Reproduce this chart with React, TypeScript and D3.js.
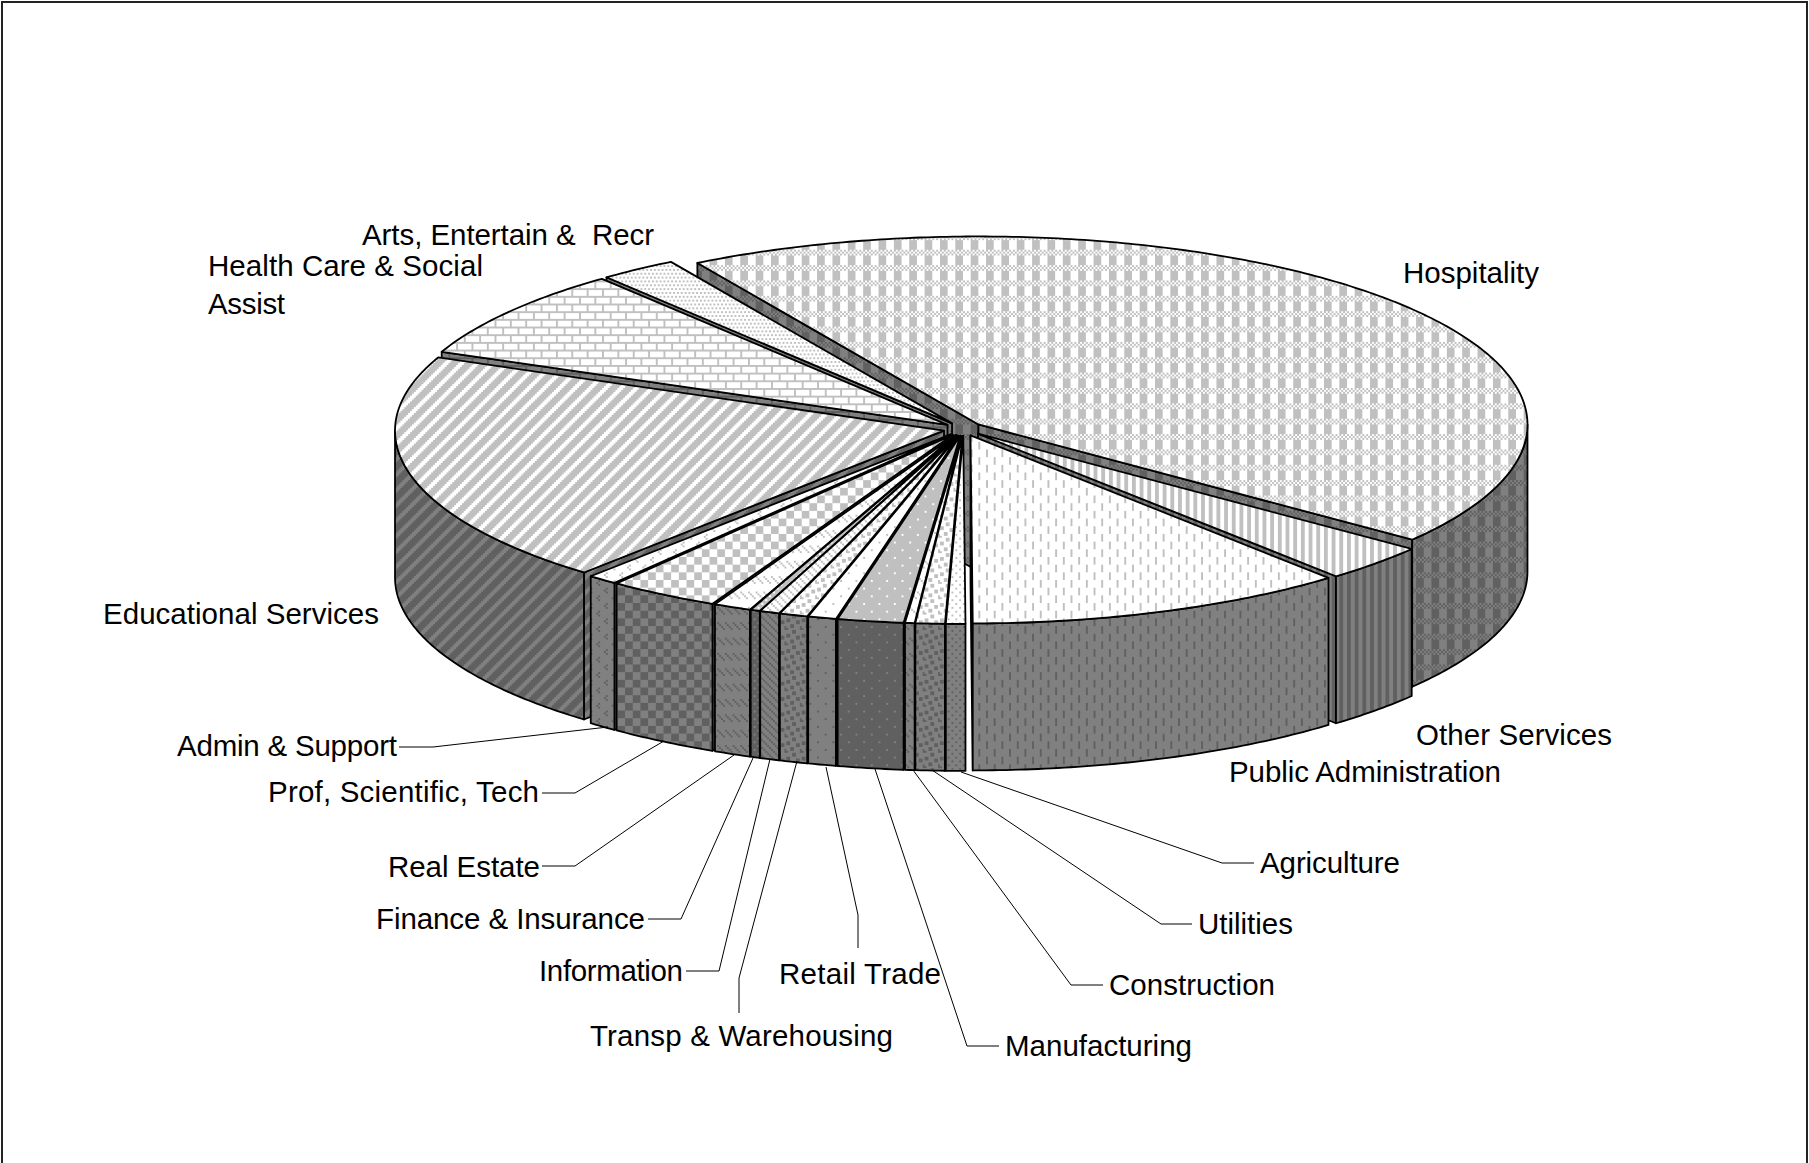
import React from "react";
import * as d3 from "d3";

// Employment share by industry, in the clockwise order of the pie.
const categories = [
  "Hospitality", "Other Services", "Public Administration", "Agriculture", "Utilities",
  "Construction", "Manufacturing", "Retail Trade", "Transp & Warehousing", "Information",
  "Finance & Insurance", "Real Estate", "Prof, Scientific, Tech", "Admin & Support",
  "Educational Services", "Health Care & Social Assist", "Arts, Entertain &  Recr",
];
const shares = [44.06, 3.19, 11.24, 0.57, 0.86, 0.28, 1.94, 0.83, 0.83, 0.58, 0.28, 1.11, 3.28, 0.89, 19.97, 7.81, 2.28];

// 8x8 fill bitmaps, one per category, in the same order.
const plaid = ["10101010", "01010101", "10101010", "11110000", "11110000", "11110000", "11110000", "11110000"];
const wideVertical = Array(8).fill("11001100");
const dashedVertical = ["10000000", "10000000", "10000000", "10000000", "00001000", "00001000", "00001000", "00001000"];
const tenPercent = ["10001000", "00000000", "00100010", "00000000", "10001000", "00000000", "00100010", "00000000"];
const confetti = ["11000000", "11000110", "00000110", "00110000", "00110001", "10000001", "00011000", "00011000"];
const dashedDown = ["00000000", "00000000", "10001000", "01000100", "00100010", "00010001", "00000000", "00000000"];
const sparseDots = ["10000000", "00000000", "00000000", "00000000", "00001000", "00000000", "00000000", "00000000"];
const sparseHoles = ["01111111", "11111111", "11111111", "11111111", "11110111", "11111111", "11111111", "11111111"];
const lightDown = ["10001000", "01000100", "00100010", "00010001", "10001000", "01000100", "00100010", "00010001"];
const nearSolid = ["11101110", "11111111", "10111011", "11111111", "11101110", "11111111", "10111011", "11111111"];
const largeCheck = ["11110000", "11110000", "11110000", "11110000", "00001111", "00001111", "00001111", "00001111"];
const chevrons = ["00100000", "01000000", "00100000", "00000000", "00000010", "00000100", "00000010", "00000000"];
const wideUp = ["00011111", "00111110", "01111100", "11111000", "11110001", "11100011", "11000111", "10001111"];
const brick = ["11111111", "00001000", "00001000", "00001000", "11111111", "10000000", "10000000", "10000000"];
const fineDots = ["10101010", "00000000", "01010101", "00000000", "10101010", "00000000", "01010101", "00000000"];
const fills = [
  plaid, wideVertical, dashedVertical, tenPercent, confetti, dashedDown, sparseHoles, sparseDots,
  confetti, lightDown, nearSolid, dashedDown, largeCheck, chevrons, wideUp, brick, fineDots,
];

// Label text lines with their start x, baseline y and set width.
const labelLines = [
  { text: "Hospitality", x: 1403, y: 283, w: 136 },
  { text: "Other Services", x: 1416, y: 745, w: 196 },
  { text: "Public Administration", x: 1229, y: 782, w: 272 },
  { text: "Agriculture", x: 1260, y: 873, w: 140 },
  { text: "Utilities", x: 1198, y: 934, w: 95 },
  { text: "Construction", x: 1109, y: 995, w: 166 },
  { text: "Manufacturing", x: 1005, y: 1056, w: 187 },
  { text: "Retail Trade", x: 779, y: 984, w: 162 },
  { text: "Transp & Warehousing", x: 590, y: 1046, w: 303 },
  { text: "Information", x: 539, y: 981, w: 144 },
  { text: "Finance & Insurance", x: 376, y: 929, w: 269 },
  { text: "Real Estate", x: 388, y: 877, w: 152 },
  { text: "Prof, Scientific, Tech", x: 268, y: 802, w: 271 },
  { text: "Admin & Support", x: 177, y: 756, w: 220 },
  { text: "Educational Services", x: 103, y: 624, w: 276 },
  { text: "Health Care & Social", x: 208, y: 276, w: 275 },
  { text: "Assist", x: 208, y: 314, w: 77 },
  { text: "Arts, Entertain &  Recr", x: 362, y: 245, w: 292 },
];

// Elbowed leader lines from the small slices to their labels.
const leaders: [number, number][][] = [
  [[399, 747], [433, 747], [608, 727]],
  [[542, 793], [575, 793], [664, 741]],
  [[542, 866], [575, 866], [734, 755]],
  [[648, 919], [681, 919], [753, 758]],
  [[686, 971], [719, 971], [770, 759]],
  [[739, 1013], [739, 978], [797, 761]],
  [[858, 948], [858, 915], [826, 767]],
  [[999, 1046], [967, 1046], [875, 769]],
  [[1103, 985], [1071, 985], [913, 770]],
  [[1192, 924], [1161, 924], [932, 770]],
  [[1254, 863], [1222, 863], [961, 772]],
];

const W = 1809;
const H = 1163;
const CX = 963.5;
const CY = 429;
const RX = 549;
const RY = 188;
const DEPTH = 147;
const EXPLODE = 20 / 549;
const FIRST_ANGLE = (-30.8 * Math.PI) / 180;
const CELL = 1.92;
const FACE_ON = "#C0C0C0";
const FACE_OFF = "#FFFFFF";
const WALL_ON = "#606060";
const WALL_OFF = "#808080";
const LINE = 1.8;

const sx = d3.scaleLinear([-1, 1], [-RX, RX]);
const sy = d3.scaleLinear([-1, 1], [-RY, RY]);
const pathOf = d3.line<[number, number]>();

type Pt = [number, number];

// A point of the disc at a clockwise angle from north, around a slice apex.
const onRim = (apex: Pt, a: number, r = 1): Pt => [
  apex[0] + sx(Math.sin(a) * r),
  apex[1] + sy(-Math.cos(a) * r),
];

const sampleArc = (apex: Pt, a0: number, a1: number): Pt[] => {
  const n = Math.max(2, Math.ceil(Math.abs(a1 - a0) / 0.012));
  return d3.range(n + 1).map((i) => onRim(apex, a0 + ((a1 - a0) * i) / n));
};

const drop = (p: Pt): Pt => [p[0], p[1] + DEPTH];

function Tile({ id, rows, on, off }: { id: string; rows: string[]; on: string; off: string }) {
  let d = "";
  rows.forEach((row, y) =>
    row.split("").forEach((c, x) => {
      if (c === "1") d += `M${x} ${y}h1v1h-1z`;
    }),
  );
  return (
    <pattern id={id} width={8} height={8} patternUnits="userSpaceOnUse" patternTransform={`translate(3 4) scale(${CELL})`}>
      <rect width={8} height={8} fill={off} />
      <path d={d} fill={on} />
    </pattern>
  );
}

function Slice({ i, arc }: { i: number; arc: d3.PieArcDatum<number> }) {
  const { startAngle: a0, endAngle: a1 } = arc;
  const mid = (a0 + a1) / 2;
  const apex: Pt = onRim([CX, CY], mid, EXPLODE);
  const stroke = { stroke: "#000", strokeWidth: LINE, strokeLinejoin: "round" as const };
  const wallFill = `url(#wall-${i})`;
  const radial = (a: number) => {
    const rim = onRim(apex, a);
    return pathOf([apex, rim, drop(rim), drop(apex)]) + "Z";
  };
  // Outer wall only where the rim faces the viewer.
  const lo = Math.max(a0, Math.PI / 2);
  const hi = Math.min(a1, (3 * Math.PI) / 2);
  const outer = lo < hi ? sampleArc(apex, lo, hi) : null;
  return (
    <g>
      {Math.sin(a0) < 0 && <path d={radial(a0)} fill={wallFill} {...stroke} />}
      {Math.sin(a1) > 0 && <path d={radial(a1)} fill={wallFill} {...stroke} />}
      {outer && <path d={pathOf([...outer, ...outer.map(drop).reverse()]) + "Z"} fill={wallFill} {...stroke} />}
      <path d={pathOf([apex, ...sampleArc(apex, a0, a1)]) + "Z"} fill={`url(#face-${i})`} {...stroke} />
    </g>
  );
}

export default function App() {
  const arcs = d3.pie<number>().sort(null).startAngle(FIRST_ANGLE).endAngle(FIRST_ANGLE + 2 * Math.PI)(shares);
  // Painter's order: the back slice, then the left side coming forward, then the right side.
  const order = [0, ...d3.range(categories.length - 1, 2, -1), 1, 2];
  return (
    <svg width={W} height={H} style={{ position: "absolute", left: 0, top: 0, background: "#fff" }}>
      <defs>
        {fills.map((rows, i) => (
          <React.Fragment key={i}>
            <Tile id={`face-${i}`} rows={rows} on={FACE_ON} off={FACE_OFF} />
            <Tile id={`wall-${i}`} rows={rows} on={WALL_ON} off={WALL_OFF} />
          </React.Fragment>
        ))}
      </defs>
      <path d={`M2 ${H}V2H1807V${H}`} fill="none" stroke="#222" strokeWidth={2} />
      {order.map((i) => (
        <Slice key={categories[i]} i={i} arc={arcs[i]} />
      ))}
      {leaders.map((pts, i) => (
        <path key={i} d={pathOf(pts) as string} fill="none" stroke="#000" strokeWidth={1} />
      ))}
      <g fontFamily="'Liberation Sans', Arial, sans-serif" fontSize={29.5} fill="#000">
        {labelLines.map((l) => (
          <text key={l.text} x={l.x} y={l.y} textLength={l.w} lengthAdjust="spacing" style={{ whiteSpace: "pre" }}>
            {l.text}
          </text>
        ))}
      </g>
    </svg>
  );
}
